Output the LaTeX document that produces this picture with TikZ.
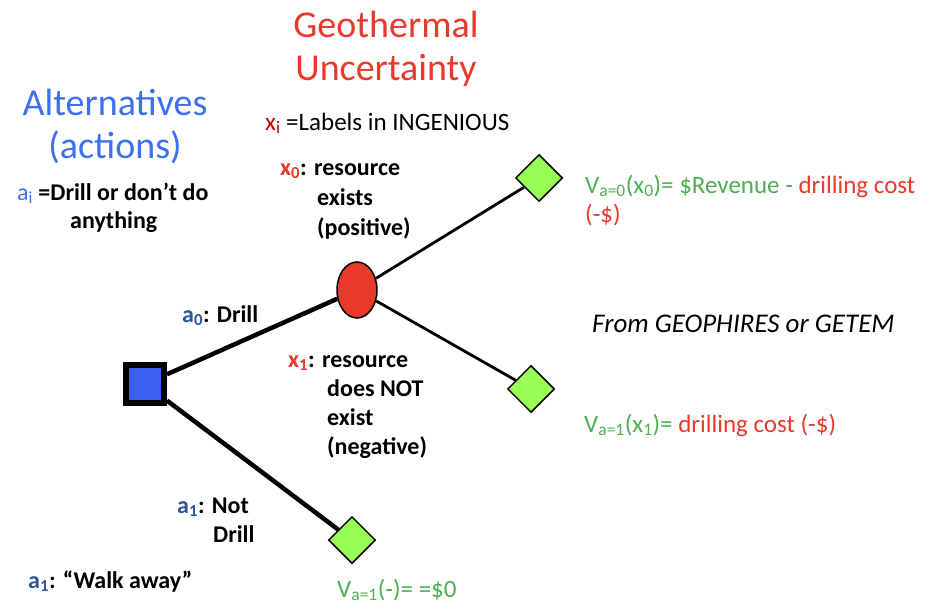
\documentclass[tikz,border=0pt]{standalone}
\usepackage{fontspec}
\setmainfont{Carlito}
\usetikzlibrary{shapes.geometric}
\definecolor{titlered}{HTML}{E8392A}
\definecolor{titleblue}{HTML}{3D6FF0}
\definecolor{darkblue}{HTML}{2F5597}
\definecolor{darkred}{HTML}{C00000}
\definecolor{txtgreen}{HTML}{4CAF50}
\definecolor{leafgreen}{HTML}{99FF55}
\definecolor{sqblue}{HTML}{3B5EF5}
\begin{document}
\begin{tikzpicture}[x=1pt,y=-1pt,
  txt/.style={inner sep=0pt,anchor=base west,align=left},
  title/.style={inner sep=0pt,anchor=base,align=center,font=\fontsize{38}{43}\selectfont},
  body/.style={txt,font=\bfseries\fontsize{24}{29}\selectfont},
  val/.style={txt,font=\fontsize{25}{29}\selectfont,text=txtgreen},
  leaf/.style={diamond,draw=black,line width=1.5pt,fill=leafgreen,minimum width=47pt,minimum height=47pt,inner sep=0pt},
  thick line/.style={line width=4.5pt},
  thin line/.style={line width=2.8pt}]
\useasboundingbox (0,0) rectangle (936,610);
% titles (anchored at the baseline of the last line)
\node[title,text=titlered] (geo) at (386,80) {Geothermal\\Uncertainty};
\node[title,text=titleblue] (alt) at (115,158) {Alternatives\\(actions)};
\node[body,font=\bfseries\fontsize{24}{28}\selectfont] (ai) at (17,228) {\textcolor{titleblue}{\mdseries a\textsubscript{i}} =Drill or don’t do\\\hspace*{53pt}anything};
\node[txt,font=\fontsize{25}{29}\selectfont] (xi) at (265,130) {\textcolor{darkred}{x\textsubscript{i}} =Labels in INGENIOUS};
\node[body,font=\bfseries\fontsize{24}{30}\selectfont] (x0) at (280,235) {\textcolor{titlered}{x\textsubscript{0}}: resource\\\hspace*{37pt}exists\\\hspace*{37pt}(positive)};
% tree nodes
\node[draw=black,line width=6pt,fill=sqblue,minimum size=38pt,inner sep=0pt] (sq) at (145,384) {};
\node[ellipse,draw=black,line width=1.5pt,fill=titlered,minimum width=40pt,minimum height=56pt,inner sep=0pt] (chance) at (357,290) {};
\node[leaf] (d1) at (539,178) {};
\node[leaf] (d2) at (531,389) {};
\node[leaf] (d3) at (352,540) {};
% connectors
\draw[thick line] (sq) -- (chance);
\draw[thick line] (sq) -- (d3);
\draw[thin line] (chance) -- (d1);
\draw[thin line] (chance) -- (d2);
% labels
\node[body] (a0) at (182,322) {\textcolor{darkblue}{a\textsubscript{0}}: Drill};
\node[body] (x1) at (288,454) {\textcolor{titlered}{x\textsubscript{1}}: resource\\\hspace*{39pt}does NOT\\\hspace*{39pt}exist\\\hspace*{39pt}(negative)};
\node[body] (a1) at (177,542) {\textcolor{darkblue}{a\textsubscript{1}}: Not\\\hspace*{36pt}Drill};
\node[body] (walk) at (28,588) {\textcolor{darkblue}{a\textsubscript{1}}: “Walk away”};
\node[val] (v3) at (337,597) {V\textsubscript{a=1}(-)= =\$0};
\node[val] (v1) at (585,222) {V\textsubscript{a=0}(x\textsubscript{0})= \$Revenue - \textcolor{titlered}{drilling cost}\\\textcolor{titlered}{(-\$)}};
\node[txt,font=\itshape\fontsize{27}{30}\selectfont] (from) at (592,332) {From GEOPHIRES or GETEM};
\node[val] (v2) at (584,432) {V\textsubscript{a=1}(x\textsubscript{1})= \textcolor{titlered}{drilling cost (-\$)}};
\end{tikzpicture}
\end{document}
